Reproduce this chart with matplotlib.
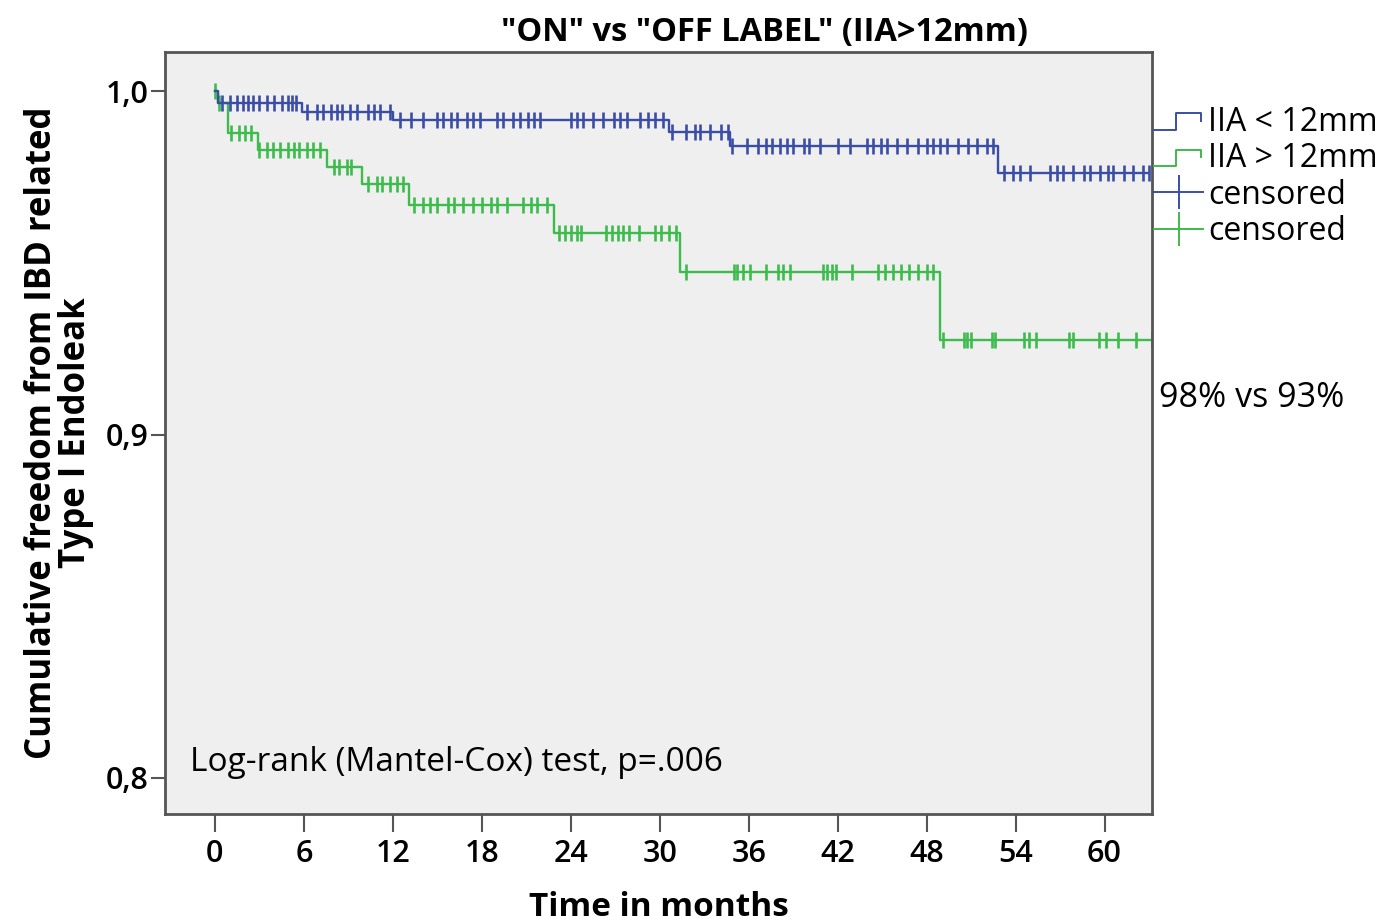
import matplotlib
matplotlib.use('Agg')
import matplotlib.pyplot as plt
import numpy as np
from matplotlib.lines import Line2D
from matplotlib.legend_handler import HandlerBase

plt.rcParams['font.family'] = ['Open Sans', 'DejaVu Sans']

# step curves (time in months, cumulative freedom)
blue_t = [0, 0.2, 5.9, 12.0, 30.6, 34.75, 52.8]
blue_s = [1.0, 0.9967, 0.9939, 0.9916, 0.9881, 0.9840, 0.9761]
blue_end = 63.0
green_t = [0, 0.2, 0.9, 2.9, 7.55, 9.9, 13.1, 22.9, 31.4, 48.9]
green_s = [1.0, 0.9965, 0.9878, 0.9830, 0.9779, 0.9730, 0.9668, 0.9587, 0.9473, 0.9275]
green_end = 63.2

# censored times
blue_cens = [0.5, 1.0, 1.5, 1.9, 2.2, 2.6, 3.0, 3.5, 4.0, 4.5, 4.9, 5.2, 5.5,
             6.2, 6.9, 7.3, 7.8, 8.2, 8.6, 9.1, 9.6, 10.3, 10.7, 11.1, 11.8,
             12.5, 13.2, 14.0, 15.0, 15.4, 15.9, 16.3, 17.0, 17.4, 17.9, 19.0, 19.4,
             20.1, 20.6, 21.1, 21.5, 21.9, 24.0, 24.4, 24.8, 25.5, 26.2, 26.9, 27.3,
             27.8, 28.7, 29.2, 29.7, 30.2,
             30.8, 31.8, 32.4, 32.7, 33.4, 34.1, 34.6,
             34.9, 35.9, 36.6, 37.2, 37.6, 38.1, 38.6, 39.0, 39.7, 40.1, 40.8, 42.0,
             42.8, 44.0, 44.4, 44.9, 45.3, 46.0, 46.7, 47.4, 48.0, 48.4, 48.9, 49.4,
             50.1, 50.8, 51.4, 52.1, 52.5,
             53.2, 53.8, 54.3, 55.0, 56.3, 56.8, 57.2, 57.9, 58.6, 59.0, 59.7, 60.2,
             60.6, 61.3, 61.9, 62.6, 63.0]
green_cens = [0.0, 0.3,
              1.1, 1.6, 2.0, 2.4,
              3.0, 3.5, 3.9, 4.4, 4.9, 5.3, 5.7, 6.2, 6.6, 7.1,
              8.0, 8.4, 8.9, 9.2,
              10.3, 10.9, 11.3, 11.8, 12.3, 12.7,
              13.4, 14.0, 14.5, 15.0, 15.7, 16.1, 16.7, 17.4, 18.0, 18.6, 19.0, 19.7,
              20.8, 21.3, 21.7, 22.4,
              23.2, 23.6, 24.0, 24.4, 24.7, 26.4, 26.8, 27.2, 27.5, 27.9, 28.6, 29.7,
              30.1, 30.6, 31.1,
              31.8, 35.0, 35.2, 35.6, 36.1, 37.2, 38.0, 38.3, 38.8, 41.0, 41.3, 41.6,
              41.9, 43.0, 44.7, 45.2, 45.7, 46.3, 46.8, 47.4, 48.0, 48.4,
              49.1, 50.5, 50.7, 51.0, 52.4, 52.6, 54.6, 54.9, 55.4, 57.6, 57.9, 59.6,
              60.1, 60.9, 62.1, 63.2]

xticks = [0, 6, 12, 18, 24, 30, 36, 42, 48, 54, 60]
yticks = [0.8, 0.9, 1.0]
ytick_labels = ['0,8', '0,9', '1,0']

BLUE = '#3b4ea6'
GREEN = '#3dbb4c'


class StepHandler(HandlerBase):
    def create_artists(self, legend, orig_handle, xdescent, ydescent,
                       width, height, fontsize, trans):
        lo = -ydescent + height * 0.05
        hi = -ydescent + height * 0.8
        xs = [-xdescent, -xdescent + width * 0.45, -xdescent + width * 0.45,
              -xdescent + width * 0.95, -xdescent + width * 0.95]
        ys = [lo, lo, hi, hi, hi - height * 0.35]
        ln = Line2D(xs, ys, color=orig_handle.get_color(), lw=1.4, transform=trans)
        return [ln]


def step_value(t, s, x):
    idx = np.searchsorted(t, x, side='right') - 1
    return np.array(s)[idx]


fig = plt.figure(figsize=(13.77, 9.24), dpi=100)
ax = fig.add_axes([0.1198, 0.119, 0.7168, 0.8247])
ax.set_facecolor('#efefef')

bt = np.array(blue_t + [blue_end])
bs = np.array(blue_s + [blue_s[-1]])
gt = np.array(green_t + [green_end])
gs = np.array(green_s + [green_s[-1]])

l1, = ax.plot(bt, bs, drawstyle='steps-post', color=BLUE, lw=1.7, zorder=3)
l2, = ax.plot(gt, gs, drawstyle='steps-post', color=GREEN, lw=1.7, zorder=2)
ax.plot(blue_cens, step_value(blue_t, blue_s, blue_cens), ls='none', marker='|',
        ms=11, mew=1.9, color=BLUE, zorder=3)
ax.plot(green_cens, step_value(green_t, green_s, green_cens), ls='none', marker='|',
        ms=11, mew=1.9, color=GREEN, zorder=2)

ax.set_xlim(-3.37, 63.2)
ax.set_ylim(0.7895, 1.0114)
ax.set_xticks(xticks)
ax.set_yticks(yticks)
ax.set_yticklabels(ytick_labels)
ax.tick_params(axis='both', direction='out', width=1.5, color='#555555', labelsize=22)
ax.tick_params(axis='y', length=10, pad=2)
ax.tick_params(axis='x', length=13, pad=5)
for lab in ax.get_xticklabels() + ax.get_yticklabels():
    lab.set_fontweight('semibold')
for sp in ax.spines.values():
    sp.set_color('#555555')
    sp.set_linewidth(2)

ax.set_xlabel('Time in months', fontsize=24, fontweight='bold', labelpad=16)
ax.set_ylabel('Cumulative freedom from IBD related\nType I Endoleak', fontsize=25,
              fontweight='bold', labelpad=8, linespacing=0.95)
fig.text(0.555, 0.965, '"ON" vs "OFF LABEL" (IIA>12mm)', ha='center', va='center',
         fontsize=23.5, fontweight='bold')

ax.text(-1.7, 0.8045, 'Log-rank (Mantel-Cox) test, p=.006', fontsize=24, va='center',
        ha='left')
fig.text(0.842, 0.569, '98% vs 93%', fontsize=24.5, va='center', ha='left')

c1 = Line2D([], [], color=BLUE, lw=1.4, marker='|', ms=24, mew=1.4)
c2 = Line2D([], [], color=GREEN, lw=1.4, marker='|', ms=24, mew=1.4)
fig.legend([l1, l2, c1, c2], ['IIA < 12mm', 'IIA > 12mm', 'censored', 'censored'],
           handler_map={l1: StepHandler(), l2: StepHandler()},
           loc='upper left', bbox_to_anchor=(0.838, 0.885), frameon=False,
           fontsize=23, handlelength=1.55, handletextpad=0.15, labelspacing=0.1,
           borderpad=0, borderaxespad=0)

fig.savefig('out.png', dpi=100, facecolor='white')
